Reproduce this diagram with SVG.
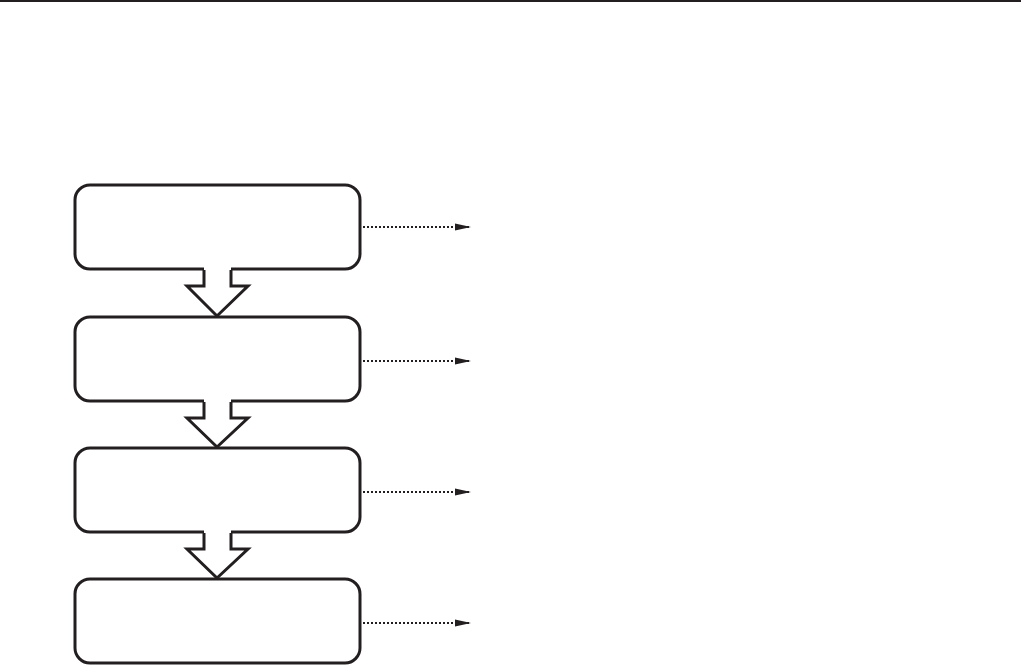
<svg xmlns="http://www.w3.org/2000/svg" width="1021" height="665" viewBox="0 0 1021 665">
<style>
.box{fill:#fff;stroke:#231f20;stroke-width:3}
.blk{fill:#fff;stroke:none}
.blko{fill:none;stroke:#231f20;stroke-width:3;stroke-linejoin:miter}
.dot{fill:none;stroke:#231f20;stroke-width:2;stroke-dasharray:2 2}
</style>
<defs>
<marker id="ah" markerWidth="16" markerHeight="8" refX="15" refY="4" orient="auto" markerUnits="userSpaceOnUse">
<path d="M0,0.5 L16,4 L0,7.5 Z" fill="#231f20"/>
</marker>
</defs>
<rect x="0" y="0" width="1021" height="2" fill="#231f20"/>
<g id="node1"><rect class="box" x="75" y="185" width="285" height="84" rx="15"/></g>
<g id="node2"><rect class="box" x="75" y="317" width="285" height="84" rx="15"/></g>
<g id="node3"><rect class="box" x="75" y="448" width="285" height="84" rx="15"/></g>
<g id="node4"><rect class="box" x="75" y="579" width="285" height="84" rx="15"/></g>
<g id="connectors">
<g id="flow1">
<polygon class="blk" points="204,265 231,265 231,286 248,286 217,316 187,286 204,286"/>
<polyline class="blko" points="204,270 204,286 187,286 217,316 248,286 231,286 231,270"/>
</g>
<g id="flow2">
<polygon class="blk" points="204,397 231,397 231,418 248,418 217,447 187,418 204,418"/>
<polyline class="blko" points="204,402 204,418 187,418 217,447 248,418 231,418 231,402"/>
</g>
<g id="flow3">
<polygon class="blk" points="204,528 231,528 231,549 248,549 217,578 187,549 204,549"/>
<polyline class="blko" points="204,533 204,549 187,549 217,578 248,549 231,549 231,533"/>
</g>
<line class="dot" x1="363" y1="227" x2="470" y2="227" marker-end="url(#ah)"/>
<line class="dot" x1="363" y1="361" x2="470" y2="361" marker-end="url(#ah)"/>
<line class="dot" x1="363" y1="492" x2="470" y2="492" marker-end="url(#ah)"/>
<line class="dot" x1="363" y1="623" x2="470" y2="623" marker-end="url(#ah)"/>
</g>
</svg>
